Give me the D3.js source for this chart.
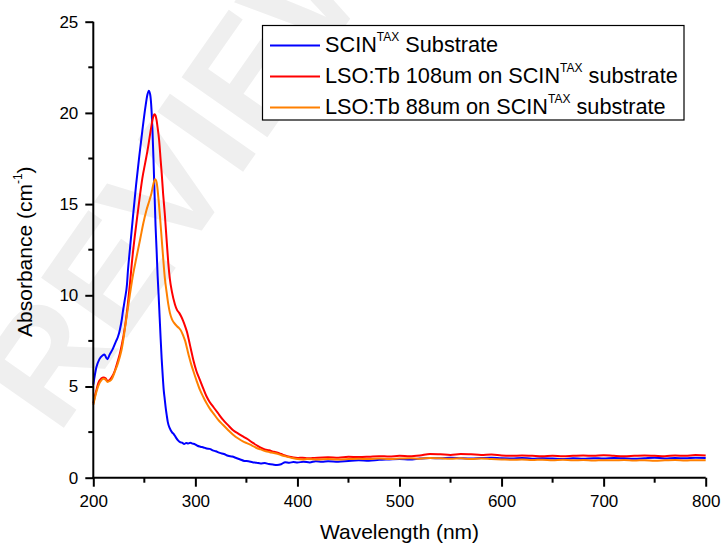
<!DOCTYPE html>
<html>
<head>
<meta charset="utf-8">
<script src="https://cdn.jsdelivr.net/npm/d3@7"></script>
<style>
  html, body { margin: 0; padding: 0; background: #fff; }
  svg { display: block; font-family: "Liberation Sans", Arial, sans-serif; }
</style>
</head>
<body>
<svg id="chart" width="721" height="545"></svg>
<script>
// ---------- data ----------
const seriesNames = ["SCIN", "LSO:Tb 108um on SCIN", "LSO:Tb 88um on SCIN"];
const seriesSup = ["TAX", "TAX", "TAX"];
const seriesTail = [" Substrate", " substrate", " substrate"];
const seriesColors = ["#0000ff", "#ff0000", "#ff8000"];

const blueWl = [200,203,206,209,211,213,214,216,219,222,224,226,228,229,231,233,234,236,239,242,245,248,251,253,254.5,256,257,258,259,260,261,262,263,264,265,266,267,268,269,270,271,272,273,275,277,279,281,283,285,287,289,291,293,295,297,299,302,305,308,311,314,317,320,324,328,332,336,340,344,348,352,356,360,364,368,372,376,380,384,388,392,396,400,406,412,418,424,430,440,450,460,470,480,490,500,510,520,530,540,550,560,570,580,590,600,610,620,630,640,650,660,670,680,690,700,710,720,730,740,750,760,770,780,790,800];
const blueAbs = [5.1,6.05,6.5,6.7,6.75,6.55,6.5,6.75,7.05,7.45,7.7,8.1,8.7,9.1,9.8,10.6,11.4,12.6,14.4,16.1,17.6,19.0,20.3,21.0,21.22,20.9,20.2,19.0,17.4,15.6,13.8,12.5,11.1,10.0,8.8,7.6,6.5,5.6,4.8,4.3,3.8,3.4,3.05,2.7,2.5,2.38,2.2,2.05,1.95,1.92,1.85,1.9,1.88,1.92,1.87,1.85,1.75,1.7,1.66,1.6,1.58,1.5,1.45,1.36,1.3,1.2,1.16,1.08,1.0,0.92,0.9,0.85,0.82,0.78,0.8,0.75,0.72,0.7,0.74,0.85,0.82,0.86,0.83,0.88,0.84,0.9,0.87,0.9,0.88,0.92,0.95,0.93,0.98,1.0,1.02,1.0,1.05,1.08,1.06,1.1,1.07,1.05,1.08,1.1,1.06,1.05,1.08,1.04,1.07,1.05,1.03,1.06,1.04,1.07,1.05,1.08,1.06,1.04,1.07,1.1,1.05,1.08,1.06,1.1,1.08];

const redWl = [200,203,205,208,210,212,214,216,218,221,224,226,228,231,234,236,238,241,243,246,248,251,253,255,257,258.5,260,261,262,263,264.5,266,267,268.5,270,272,273.5,275,277,280,282,284,286,288,290,292,294,296,298,301,304.5,308,311,314,318,322,327,332,337,342,347,351,356,360,364,368,372,377,382,386,390,395,400,405,410,415,420,430,440,450,460,470,480,490,500,510,520,530,540,550,560,570,580,590,600,610,620,630,640,650,660,670,680,690,700,710,720,730,740,750,760,770,780,790,800];
const redAbs = [4.08,4.8,5.2,5.45,5.5,5.45,5.3,5.35,5.5,5.85,6.4,6.8,7.3,8.25,9.6,10.7,11.9,13.4,14.3,15.6,16.4,17.3,17.9,18.6,19.3,19.75,19.93,19.85,19.6,19.2,18.5,17.4,16.7,15.5,14.5,12.9,11.75,10.9,10.2,9.5,9.2,9.05,8.85,8.6,8.3,7.95,7.45,6.95,6.45,5.85,5.35,4.85,4.45,4.15,3.85,3.55,3.18,2.88,2.6,2.42,2.25,2.12,1.92,1.78,1.65,1.55,1.5,1.42,1.35,1.25,1.18,1.12,1.08,1.1,1.06,1.08,1.1,1.12,1.1,1.15,1.13,1.15,1.18,1.16,1.2,1.18,1.22,1.3,1.28,1.25,1.3,1.28,1.25,1.27,1.22,1.2,1.22,1.2,1.18,1.2,1.18,1.2,1.22,1.2,1.23,1.2,1.18,1.2,1.22,1.2,1.18,1.22,1.2,1.24,1.22];

const orangeWl = [200,203,205,208,210,212,214,216,218,221,224,226,228,229.5,231,233,236,239,242,246,249,252,255,257,258.5,260.5,261.5,262.7,264,265.5,267,268.6,270,272,273.5,275,277,279,282,284,286,288,290,292,294,296,298,301,304.5,308,311,314,318,322,327,332,337,342,347,351,356,360,364,369,373,377,382,386,390,395,400,405,410,420,430,440,450,460,470,480,490,500,510,520,530,540,550,560,570,580,590,600,610,620,630,640,650,660,670,680,690,700,710,720,730,740,750,760,770,780,790,800];
const orangeAbs = [4.0,4.7,5.05,5.35,5.42,5.38,5.25,5.3,5.4,5.8,6.25,6.63,7.1,7.6,8.2,8.95,10.1,11.15,12.0,13.1,13.95,14.65,15.2,15.6,16.0,16.36,16.3,15.95,15.2,14.2,13.1,11.94,11.0,10.1,9.5,9.05,8.7,8.5,8.3,8.2,8.05,7.8,7.5,7.05,6.6,6.2,5.85,5.35,4.81,4.4,4.08,3.8,3.5,3.2,2.9,2.62,2.36,2.15,1.98,1.88,1.75,1.63,1.55,1.45,1.4,1.35,1.28,1.2,1.15,1.08,1.02,1.0,1.02,1.0,1.03,1.0,1.02,1.04,1.02,1.05,1.03,1.05,1.07,1.04,1.08,1.06,1.04,1.06,1.03,1.05,1.02,1.0,0.98,1.0,0.97,0.99,0.96,0.98,0.95,0.97,0.94,0.96,0.95,0.97,0.94,0.96,0.93,0.95,0.97,0.94,0.96,0.95];

const xTicks = [200, 300, 400, 500, 600, 700, 800];
const xMinorTicks = [250, 350, 450, 550, 650, 750];
const yTicks = [0, 5, 10, 15, 20, 25];
const yMinorTicks = [2.5, 7.5, 12.5, 17.5, 22.5];
const xTitle = "Wavelength (nm)";
const yTitleMain = "Absorbance (cm";
const yTitleSup = "-1";
const watermarkText = "REVIEW";

[[blueWl, blueAbs], [redWl, redAbs], [orangeWl, orangeAbs]].forEach((p, i) => {
  if (p[0].length !== p[1].length) throw new Error("length mismatch series " + i + ": " + p[0].length + " vs " + p[1].length);
});

// ---------- layout ----------
const svg = d3.select("#chart");
const mLeft = 93.3, mRight = 705.7, mTop = 21.7, mBottom = 477.7;
const x = d3.scaleLinear().domain([200, 800]).range([mLeft, mRight]);
const y = d3.scaleLinear().domain([0, 25]).range([mBottom, mTop]);

// watermark (faint, behind the plot)
svg.append("text")
  .attr("transform", "translate(58,436) rotate(-55)")
  .attr("text-anchor", "start")
  .attr("font-size", 152)
  .attr("font-weight", "bold")
  .attr("fill", "#efefef")
  .text(watermarkText);

// curves
const series = [
  {wl: blueWl, v: blueAbs},
  {wl: redWl, v: redAbs},
  {wl: orangeWl, v: orangeAbs}
];
const line = d3.line().x(d => x(d[0])).y(d => y(d[1])).curve(d3.curveMonotoneX);
[0, 1, 2].forEach(i => {
  const s = series[i];
  svg.append("path")
    .datum(s.wl.map((w, j) => [w, s.v[j]]))
    .attr("d", line)
    .attr("fill", "none")
    .attr("stroke", seriesColors[i])
    .attr("stroke-width", 2)
    .attr("stroke-linejoin", "round");
});

// axes
const axisFont = 17;
const gx = svg.append("g").attr("transform", `translate(0,${mBottom})`)
  .call(d3.axisBottom(x).tickValues(xTicks).tickFormat(d3.format("d")).tickSizeInner(9).tickSizeOuter(0).tickPadding(8));
const gy = svg.append("g").attr("transform", `translate(${mLeft},0)`)
  .call(d3.axisLeft(y).tickValues(yTicks).tickFormat(d3.format("d")).tickSizeInner(8).tickSizeOuter(0).tickPadding(7));
gx.append("g").selectAll("line").data(xMinorTicks).join("line")
  .attr("x1", d => x(d)).attr("x2", d => x(d)).attr("y1", 0).attr("y2", 5);
gy.append("g").selectAll("line").data(yMinorTicks).join("line")
  .attr("y1", d => y(d)).attr("y2", d => y(d)).attr("x1", 0).attr("x2", -5);
[gx, gy].forEach(g => {
  g.selectAll("path.domain").attr("stroke", "#000").attr("stroke-width", 2);
  g.selectAll("line").attr("stroke", "#000").attr("stroke-width", 2);
  g.selectAll("text").attr("font-size", axisFont).attr("fill", "#000")
    .attr("font-family", "Liberation Sans, Arial, sans-serif");
});
gx.select("path.domain").attr("d", `M${mLeft - 1},0H${mRight}`);
gy.select("path.domain").attr("d", `M0,${mTop}V${mBottom + 1}`);

// axis titles
svg.append("text")
  .attr("x", (mLeft + mRight) / 2).attr("y", 539)
  .attr("text-anchor", "middle").attr("font-size", 21).attr("fill", "#000")
  .text(xTitle);
const yt = svg.append("text")
  .attr("transform", `translate(31.5,${(mTop + mBottom) / 2 + 2}) rotate(-90)`)
  .attr("text-anchor", "middle").attr("font-size", 21).attr("fill", "#000");
yt.append("tspan").text(yTitleMain);
yt.append("tspan").attr("font-size", 12).attr("dy", -10).text(yTitleSup);
yt.append("tspan").attr("dy", 10).text(")");

// legend
const lg = svg.append("g");
lg.append("rect").attr("x", 262.5).attr("y", 25.5).attr("width", 421.5).attr("height", 94.5)
  .attr("fill", "#fff").attr("stroke", "#000").attr("stroke-width", 1.2);
seriesNames.forEach((name, i) => {
  const by = 52 + i * 31;
  lg.append("line").attr("x1", 270).attr("x2", 320).attr("y1", by - 6.5).attr("y2", by - 6.5)
    .attr("stroke", seriesColors[i]).attr("stroke-width", 2);
  const t = lg.append("text").attr("x", 325).attr("y", by).attr("font-size", 21.7).attr("fill", "#000");
  t.append("tspan").text(name);
  t.append("tspan").attr("font-size", 12).attr("dy", -11).text(seriesSup[i]);
  t.append("tspan").attr("dy", 11).text(seriesTail[i]);
});
</script>
</body>
</html>
